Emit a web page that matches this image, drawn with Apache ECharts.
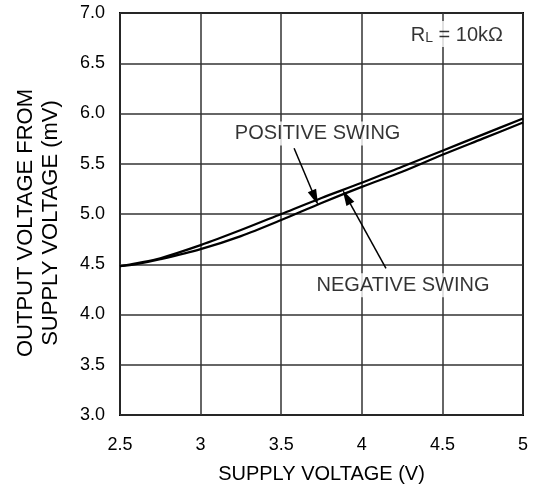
<!DOCTYPE html>
<html>
<head>
<meta charset="utf-8">
<script src="https://cdn.jsdelivr.net/npm/echarts@6/dist/echarts.min.js"></script>
<style>
html,body{margin:0;padding:0;background:#fff;}
#chart{width:534px;height:484px;}
</style>
</head>
<body>
<div id="chart"></div>
<script>
var supplyVoltage = [2.5, 2.6, 2.75, 3.0, 3.25, 3.5, 3.75, 4.0, 4.25, 4.5, 4.75, 5.0];
var positiveSwing = [4.48, 4.51, 4.56, 4.69, 4.84, 5.00, 5.16, 5.31, 5.47, 5.63, 5.79, 5.95];
var negativeSwing = [4.48, 4.50, 4.55, 4.65, 4.78, 4.94, 5.11, 5.27, 5.42, 5.59, 5.75, 5.91];
var xTicks = [2.5, 3, 3.5, 4, 4.5, 5];
var yTicks = [3.0, 3.5, 4.0, 4.5, 5.0, 5.5, 6.0, 6.5, 7.0];
// annotations (data coordinates)
var posLabel = {text: 'POSITIVE SWING', at: [3.726, 5.80]};
var posArrow = [[3.58, 5.655], [3.71, 5.16]];
var negLabel = {text: 'NEGATIVE SWING', at: [4.256, 4.29]};
var negArrow = [[4.15, 4.46], [3.905, 5.17]];
var rlLabelPos = [4.59, 6.79];

var FONT = 'Liberation Sans, Arial, sans-serif';
function zip(xs, ys){ return xs.map(function(x,i){ return [x, ys[i]]; }); }

var chart = echarts.init(document.getElementById('chart'), null, {renderer:'canvas'});
var lineStyleCommon = {color:'#000', width:2.2};
var option = {
  animation:false,
  backgroundColor:'#fff',
  grid:{left:120, right:11, top:13, bottom:69, show:true, borderColor:'#000', borderWidth:2, backgroundColor:'transparent',
        containLabel:false, outerBoundsMode:'none'},
  xAxis:{
    type:'value', min:2.5, max:5, interval:0.5,
    name:'SUPPLY VOLTAGE (V)', nameLocation:'middle', nameGap:49,
    nameTextStyle:{fontFamily:FONT, fontSize:20, color:'#000'},
    axisLine:{show:false}, axisTick:{show:false},
    axisLabel:{fontFamily:FONT, fontSize:18, color:'#000', margin:21,
      formatter:function(v){ return xTicks.indexOf(v)>=0 ? String(v) : ''; }},
    splitLine:{show:true, lineStyle:{color:'#333', width:1.5}}
  },
  yAxis:{
    type:'value', min:3, max:7, interval:0.5,
    name:'OUTPUT VOLTAGE FROM\nSUPPLY VOLTAGE (mV)', nameLocation:'middle', nameGap:57,
    nameTextStyle:{fontFamily:FONT, fontSize:22, color:'#000', lineHeight:25, padding:[0,18,0,0]},
    axisLine:{show:false}, axisTick:{show:false},
    axisLabel:{fontFamily:FONT, fontSize:18, color:'#000', margin:15,
      formatter:function(v){ return v.toFixed(1); }},
    splitLine:{show:true, lineStyle:{color:'#333', width:1.5}}
  },
  series:[
    {type:'line', name:'Positive', data:zip(supplyVoltage, positiveSwing), smooth:0.3, symbol:'none',
     lineStyle:lineStyleCommon, z:5,
     markLine:{silent:true, symbol:['none','triangle'], symbolSize:[9,16],
       lineStyle:{color:'#000', width:1.5, type:'solid'}, label:{show:false},
       data:[[{coord:posArrow[0]},{coord:posArrow[1]}],[{coord:negArrow[0]},{coord:negArrow[1]}]]}},
    {type:'line', name:'Negative', data:zip(supplyVoltage, negativeSwing), smooth:0.3, symbol:'none',
     lineStyle:lineStyleCommon, z:5},
    {type:'scatter', symbolSize:0, silent:true, z:10,
     data:[
       {value:posLabel.at, label:{show:true, formatter:posLabel.text}},
       {value:negLabel.at, label:{show:true, formatter:negLabel.text}},
       {value:rlLabelPos, label:{show:true, formatter:'{r|R}{s|L}{r| = 10kΩ}',
         rich:{r:{fontFamily:FONT, fontSize:20, color:'#000', verticalAlign:'bottom'},
               s:{fontFamily:FONT, fontSize:14, color:'#000', padding:[8,0,0,0]}}}}
     ],
     label:{position:'inside', fontFamily:FONT, fontSize:20, color:'#000', backgroundColor:'#fff', padding:[2,3]}
    }
  ]
};
chart.setOption(option);
</script>
</body>
</html>
